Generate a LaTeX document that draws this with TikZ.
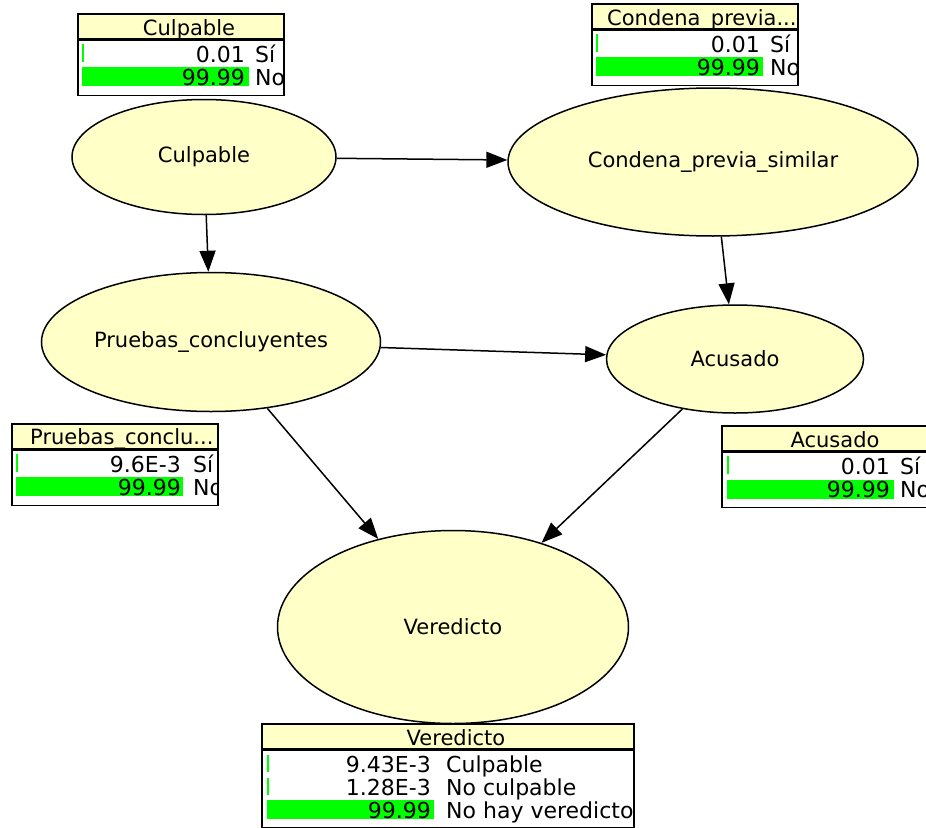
\documentclass[tikz,border=0pt]{standalone}
\usepackage{fontspec}
\setmainfont{DejaVu Sans}
\usepackage{xcolor}
\definecolor{nodeyellow}{HTML}{FFFFC8}
\definecolor{bargreen}{HTML}{00FF00}
\usepackage{tikz}
\usetikzlibrary{arrows.meta, positioning, shapes.geometric}

\tikzset{
  varnode/.style={ellipse, draw, line width=1.5pt, fill=nodeyellow, inner sep=0pt,
    font=\fontsize{21}{24}\selectfont},
  link/.style={-{Triangle[length=21pt, width=16pt]}, line width=1.5pt},
  montitle/.style={draw, line width=1.5pt, fill=nodeyellow, minimum height=25pt,
    inner sep=0pt, anchor=north west},
  monbody/.style={draw, line width=1.5pt, fill=white, inner sep=0pt, anchor=north west},
  monname/.style={inner sep=0pt, font=\fontsize{21}{24}\selectfont},
  montext/.style={inner sep=0pt, font=\fontsize{22}{24}\selectfont},
}

\begin{document}
\begin{tikzpicture}[x=1pt, y=-1pt]
    \useasboundingbox (0,0) rectangle (926,827);
    % Variables of the network
    \node[varnode, minimum width=264pt, minimum height=115pt] (culpable) at (204,157) {Culpable};
    \node[varnode, minimum width=410pt, minimum height=148pt] (condena) at (713,162) {Condena\_previa\_similar};
    \node[varnode, minimum width=339pt, minimum height=139pt] (pruebas) at (211,342) {Pruebas\_concluyentes};
    \node[varnode, minimum width=257pt, minimum height=108pt] (acusado) at (735,359) {Acusado};
    \node[varnode, minimum width=351pt, minimum height=193pt] (veredicto) at (453,627) {Veredicto};
    % Links
    \draw[link] (culpable) -- (condena);
    \draw[link] (culpable) -- (pruebas);
    \draw[link] (condena) -- (acusado);
    \draw[link] (pruebas) -- (acusado);
    \draw[link] (pruebas) -- (veredicto);
    \draw[link] (acusado) -- (veredicto);

    % Culpable monitor
    \node[montitle, minimum width=206pt] (culpableTitle) at (77,13) {};
    \node[monbody, minimum width=206pt, minimum height=55pt] (culpableBody) at (culpableTitle.south west) {};
    \begin{scope}
      \clip (culpableTitle.north west) rectangle (culpableBody.south east);
      \node[monname, anchor=base] (culpableName) at (189,35) {Culpable};
      \fill[bargreen] (82,44) rectangle (83.5,62);
      \fill[bargreen] (82,67) rectangle (249,86);
      \node[montext, anchor=base east] (culpableSiP) at (245,62) {0.01};
      \node[montext, anchor=base west] (culpableSi) at (255,62) {Sí};
      \node[montext, anchor=base east] (culpableNoP) at (245,85) {99.99};
      \node[montext, anchor=base west] (culpableNo) at (255,85) {No};
    \end{scope}

    % Condena_previa_similar monitor
    \node[montitle, minimum width=206pt] (condenaTitle) at (591,3) {};
    \node[monbody, minimum width=206pt, minimum height=55pt] (condenaBody) at (condenaTitle.south west) {};
    \begin{scope}
      \clip (condenaTitle.north west) rectangle (condenaBody.south east);
      \node[monname, anchor=base west] (condenaName) at (607,25) {Condena\_previa...};
      \fill[bargreen] (596,34) rectangle (597.5,52);
      \fill[bargreen] (596,57) rectangle (763,76);
      \node[montext, anchor=base east] (condenaSiP) at (760,52) {0.01};
      \node[montext, anchor=base west] (condenaSi) at (770,52) {Sí};
      \node[montext, anchor=base east] (condenaNoP) at (760,75) {99.99};
      \node[montext, anchor=base west] (condenaNo) at (770,75) {No};
    \end{scope}

    % Pruebas_concluyentes monitor
    \node[montitle, minimum width=206pt] (pruebasTitle) at (11,423) {};
    \node[monbody, minimum width=206pt, minimum height=55pt] (pruebasBody) at (pruebasTitle.south west) {};
    \begin{scope}
      \clip (pruebasTitle.north west) rectangle (pruebasBody.south east);
      \node[monname, anchor=base west] (pruebasName) at (30,444) {Pruebas\_conclu...};
      \fill[bargreen] (16,454) rectangle (17.5,472);
      \fill[bargreen] (16,477) rectangle (183,496);
      \node[montext, anchor=base east] (pruebasSiP) at (181,472) {9.6E-3};
      \node[montext, anchor=base west] (pruebasSi) at (193,472) {Sí};
      \node[montext, anchor=base east] (pruebasNoP) at (181,495) {99.99};
      \node[montext, anchor=base west] (pruebasNo) at (193,495) {No};
    \end{scope}

    % Acusado monitor
    \node[montitle, minimum width=206pt] (acusadoTitle) at (721,425) {};
    \node[monbody, minimum width=206pt, minimum height=55pt] (acusadoBody) at (acusadoTitle.south west) {};
    \begin{scope}
      \clip (acusadoTitle.north west) rectangle (acusadoBody.south east);
      \node[monname, anchor=base] (acusadoName) at (835,447) {Acusado};
      \fill[bargreen] (727,456) rectangle (728.5,474);
      \fill[bargreen] (727,480) rectangle (894,499);
      \node[montext, anchor=base east] (acusadoSiP) at (890,474) {0.01};
      \node[montext, anchor=base west] (acusadoSi) at (900,474) {Sí};
      \node[montext, anchor=base east] (acusadoNoP) at (890,497) {99.99};
      \node[montext, anchor=base west] (acusadoNo) at (900,497) {No};
    \end{scope}

    % Veredicto monitor
    \node[montitle, minimum width=372pt] (veredictoTitle) at (261,723) {};
    \node[monbody, minimum width=372pt, minimum height=77pt] (veredictoBody) at (veredictoTitle.south west) {};
    \begin{scope}
      \clip (veredictoTitle.north west) rectangle (veredictoBody.south east);
      \node[monname, anchor=base] (veredictoName) at (456,745) {Veredicto};
      \fill[bargreen] (267,755) rectangle (268.5,772);
      \fill[bargreen] (267,778) rectangle (268.5,795);
      \fill[bargreen] (267,800) rectangle (434,819);
      \node[montext, anchor=base east] (veredictoCP) at (431,772) {9.43E-3};
      \node[montext, anchor=base west] (veredictoC) at (446,772) {Culpable};
      \node[montext, anchor=base east] (veredictoNCP) at (431,795) {1.28E-3};
      \node[montext, anchor=base west] (veredictoNC) at (446,795) {No culpable};
      \node[montext, anchor=base east] (veredictoNHP) at (431,818) {99.99};
      \node[montext, anchor=base west] (veredictoNH) at (446,818) {No hay veredicto};
    \end{scope}
  \end{tikzpicture}
\end{document}
